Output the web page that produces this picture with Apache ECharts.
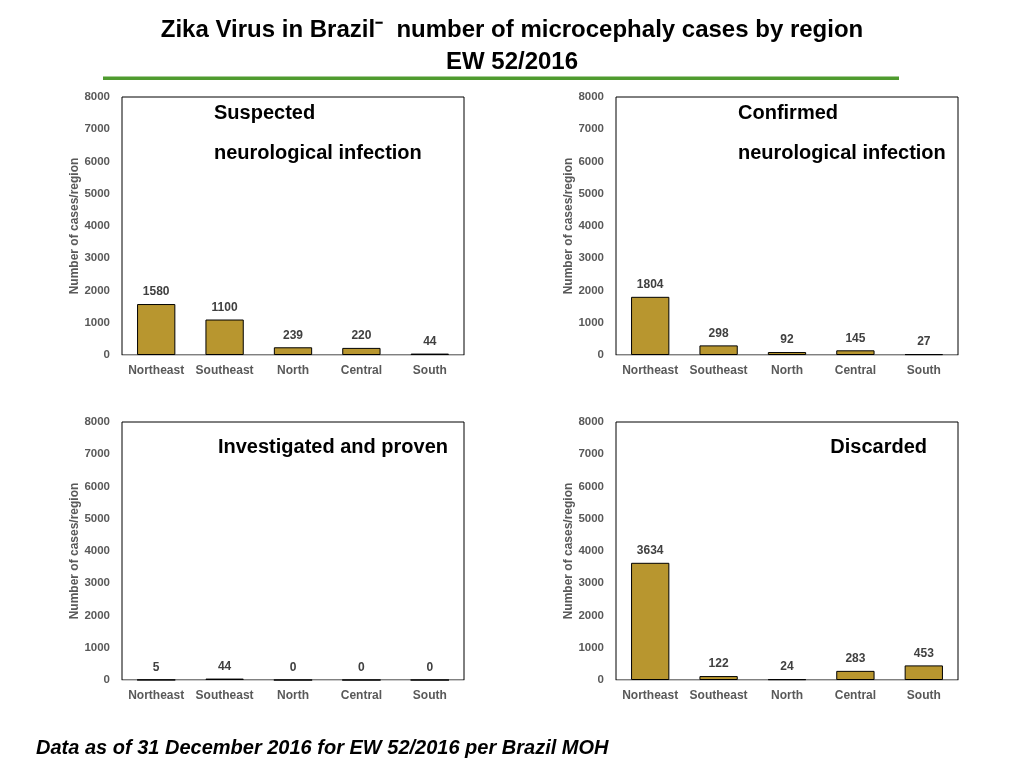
<!DOCTYPE html>
<html>
<head>
<meta charset="utf-8">
<script src="https://cdn.jsdelivr.net/npm/echarts@6/dist/echarts.min.js"></script>
<style>
  html, body { margin: 0; padding: 0; background: #fff; }
  #chart { width: 1024px; height: 768px; }
</style>
</head>
<body>
<div id="chart"></div>
<script>
'use strict';

const regions = ['Northeast', 'Southeast', 'North', 'Central', 'South'];
const suspected = [1580, 1100, 239, 220, 44];
const confirmed = [1804, 298, 92, 145, 27];
const proven = [5, 44, 0, 0, 0];
const discarded = [3634, 122, 24, 283, 453];
const yTicks = [0, 1000, 2000, 3000, 4000, 5000, 6000, 7000, 8000];

const barColor = '#b8962f';
const font = 'Liberation Sans, Arial, Helvetica, sans-serif';

/*
 * One panel per grid: position and data.
 */
const panels = [
    { left: 122, top: 97, data: suspected },
    { left: 616, top: 97, data: confirmed },
    { left: 122, top: 422, data: proven },
    { left: 616, top: 422, data: discarded },
];
const gridW = 342;
const gridH = 258;

const grids = panels.map((p) => ({
    left: p.left,
    top: p.top,
    width: gridW,
    height: gridH,
    show: true,
    borderColor: '#000',
    borderWidth: 1,
    backgroundColor: '#fff',
}));

const xAxes = panels.map((p, i) => ({
    type: 'category',
    gridIndex: i,
    data: regions,
    axisTick: { show: false },
    axisLine: { show: true, lineStyle: { color: '#c8c8c8', width: 1 } },
    axisLabel: { interval: 0, color: '#595959', fontWeight: 'bold', fontSize: 12, fontFamily: font, margin: 10 },
}));

const yAxes = panels.map((p, i) => ({
    type: 'value',
    gridIndex: i,
    min: yTicks[0],
    max: yTicks[yTicks.length - 1],
    interval: yTicks[1] - yTicks[0],
    name: 'Number of cases/region',
    nameLocation: 'middle',
    nameGap: 39,
    nameTextStyle: { color: '#595959', fontWeight: 'bold', fontSize: 12, fontFamily: font },
    splitLine: { show: false },
    axisLine: { show: false },
    axisTick: { show: false },
    axisLabel: {
        color: '#595959', fontWeight: 'bold', fontSize: 11.5, fontFamily: font, margin: 12,
        formatter: (v) => String(v),
    },
}));

const series = panels.map((p, i) => ({
    type: 'bar',
    xAxisIndex: i,
    yAxisIndex: i,
    data: p.data,
    barWidth: '56%',
    itemStyle: { color: barColor, borderColor: '#000', borderWidth: 1 },
    label: {
        show: true,
        position: 'top',
        distance: 6,
        color: '#404040',
        fontWeight: 'bold',
        fontSize: 12,
        fontFamily: font,
    },
}));

const captionStyle = { fontSize: 20, fontWeight: 'bold', color: '#000', fontFamily: font, verticalAlign: 'middle' };
const cap = (text, x, y, extra) => ({
    type: 'text', x: x, y: y,
    style: Object.assign({ text: text }, captionStyle, extra || {}),
});

const graphic = [
    cap('Zika Virus in Brazil\u207B  number of microcephaly cases by region', 512, 30, { align: 'center', fontSize: 24 }),
    cap('EW 52/2016', 512, 62, { align: 'center', fontSize: 24 }),
    { type: 'rect', shape: { x: 103, y: 76.5, width: 796, height: 3.5 }, style: { fill: '#4f9b2f' } },
    cap('Suspected', 214, 113),
    cap('neurological infection', 214, 153),
    cap('Confirmed', 738, 113),
    cap('neurological infection', 738, 153),
    cap('Investigated and proven', 448, 447, { align: 'right' }),
    cap('Discarded', 927, 447, { align: 'right' }),
    cap('Data as of 31 December 2016 for EW 52/2016 per Brazil MOH', 36, 748, { fontSize: 20, fontStyle: 'italic' }),
];

const chart = echarts.init(document.getElementById('chart'), null, { renderer: 'canvas' });
chart.setOption({
    animation: false,
    grid: grids,
    xAxis: xAxes,
    yAxis: yAxes,
    series: series,
    graphic: graphic,
});
</script>
</body>
</html>
